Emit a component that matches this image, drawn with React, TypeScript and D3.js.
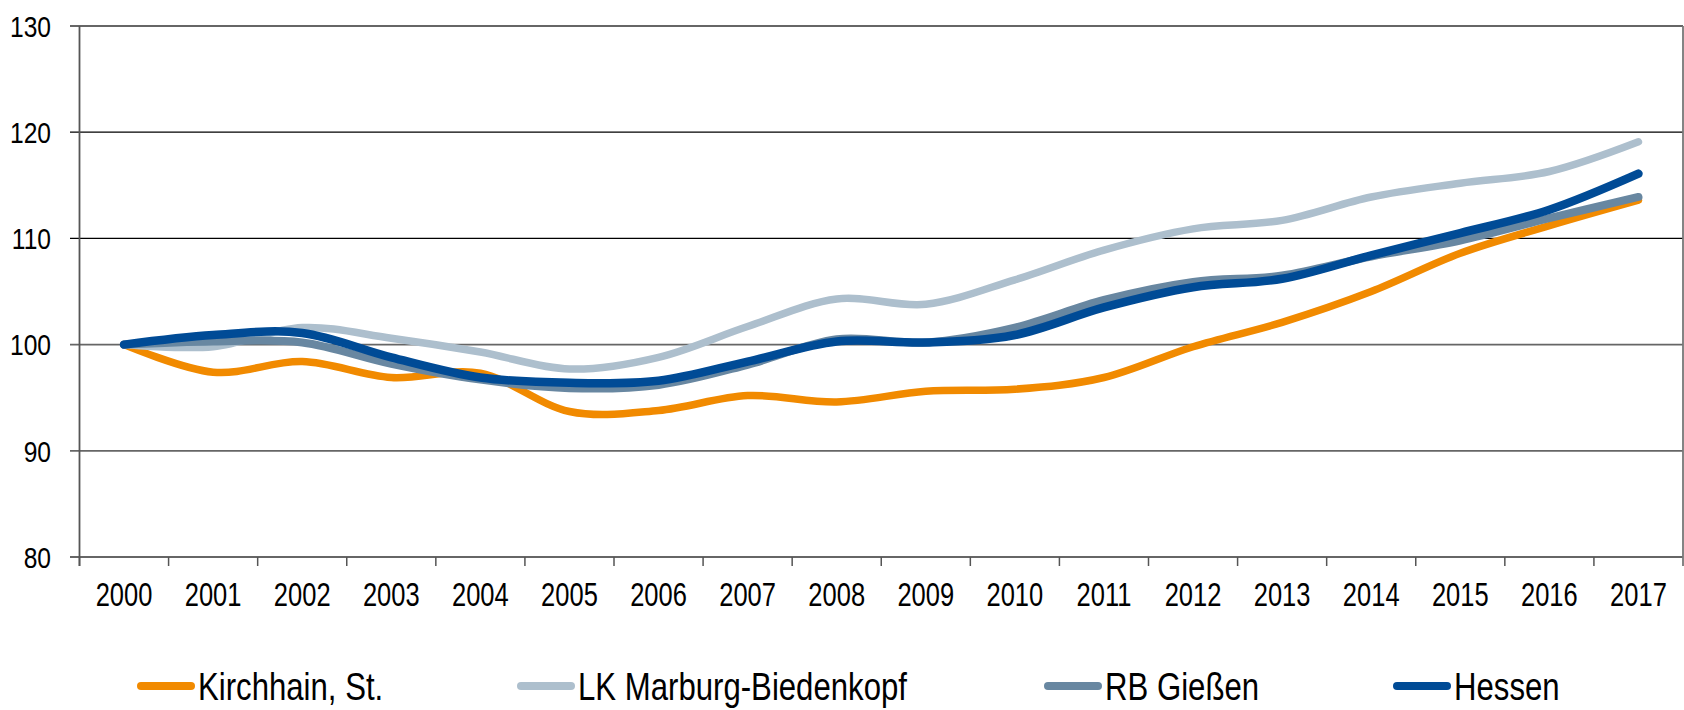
import React from "react";
import * as d3 from "d3";

// index 2000 = 100
const years = ["2000", "2001", "2002", "2003", "2004", "2005", "2006", "2007", "2008", "2009",
  "2010", "2011", "2012", "2013", "2014", "2015", "2016", "2017"];

const kirchhain = [100, 97.4, 98.4, 96.9, 97.3, 93.7, 93.8, 95.2, 94.6, 95.6, 95.8, 96.9, 99.8, 102.1, 105.0, 108.6, 111.2, 113.6];
const marburg = [100, 99.8, 101.6, 100.6, 99.3, 97.7, 98.8, 101.7, 104.3, 103.8, 106.1, 108.9, 110.9, 111.7, 113.9, 115.2, 116.3, 119.1];
const giessen = [100, 100.3, 100.2, 98.2, 96.7, 95.9, 96.2, 98.1, 100.5, 100.2, 101.6, 104.2, 105.9, 106.5, 108.3, 109.8, 111.9, 113.9];
const hessen = [100, 100.9, 101.1, 98.8, 96.9, 96.4, 96.6, 98.4, 100.3, 100.2, 100.9, 103.5, 105.4, 106.2, 108.4, 110.5, 112.7, 116.1];

const yTicks = [80, 90, 100, 110, 120, 130];

const series = [
  { name: "Kirchhain, St.", values: kirchhain, color: "#f18a00", width: 7.5 },
  { name: "LK Marburg-Biedenkopf", values: marburg, color: "#adbfcd", width: 7.5 },
  { name: "RB Gießen", values: giessen, color: "#6887a1", width: 8 },
  { name: "Hessen", values: hessen, color: "#004b96", width: 8.5 },
];
const legendX = [137, 517, 1044, 1393];

const W = 1684;
const H = 710;
const left = 79.5;
const right = 1683;
const top = 26;
const bottom = 557;
const font = "'Liberation Sans', Arial, sans-serif";

// the original uses a condensed face; squeeze Liberation Sans horizontally
function NText(props: { x: number; y: number; size: number; sx?: number; anchor?: string; children: React.ReactNode }) {
  return (
    <text
      transform={`translate(${props.x},${props.y}) scale(${props.sx || 0.82},1)`}
      dy="0.36em"
      textAnchor={props.anchor || "start"}
      fontFamily={font}
      fontSize={props.size}
      fill="#000"
    >
      {props.children}
    </text>
  );
}

export default function App() {
  const x = d3.scaleBand().domain(years).range([left, right]);
  const y = d3.scaleLinear().domain([80, 130]).range([bottom, top]);
  const cx = (i: number) => (x(years[i]) as number) + x.bandwidth() / 2;

  const line = d3
    .line<number>()
    .x((_, i) => cx(i))
    .y((d) => y(d))
    .curve(d3.curveCardinal.tension(0));

  return (
    <svg width={W} height={H} style={{ position: "absolute", left: 0, top: 0, background: "#fff" }}>
      {/* grid + y ticks */}
      {yTicks.map((t) => {
        const dark = t === 110 || t === 120;
        return (
          <line
            key={t}
            x1={70}
            x2={right}
            y1={y(t)}
            y2={y(t)}
            stroke={dark ? "#000" : "#666"}
            strokeWidth={dark ? 1.2 : 1.8}
          />
        );
      })}
      {yTicks.map((t) => (
        <NText key={"l" + t} x={51} y={y(t)} size={30} anchor="end">
          {t}
        </NText>
      ))}
      {/* axes */}
      <line x1={left} x2={left} y1={top} y2={bottom + 9} stroke="#555" strokeWidth={1.8} />
      <line x1={right} x2={right} y1={top} y2={bottom + 9} stroke="#777" strokeWidth={1.8} />
      {years.map((yr) => (
        <line key={"t" + yr} x1={x(yr)} x2={x(yr)} y1={bottom} y2={bottom + 9} stroke="#555" strokeWidth={1.5} />
      ))}
      {years.map((yr, i) => (
        <NText key={"x" + yr} x={cx(i)} y={594} size={34} sx={0.75} anchor="middle">
          {yr}
        </NText>
      ))}
      {/* series */}
      {series.map((s) => (
        <path
          key={s.name}
          d={line(s.values) || ""}
          fill="none"
          stroke={s.color}
          strokeWidth={s.width}
          strokeLinecap="round"
          strokeLinejoin="round"
        />
      ))}
      {/* legend */}
      {series.map((s, i) => (
        <g key={"lg" + s.name} transform={`translate(${legendX[i]},686)`}>
          <line x1={4} x2={54} y1={0} y2={0} stroke={s.color} strokeWidth={8} strokeLinecap="round" />
          <NText x={61} y={0} size={38}>
            {s.name}
          </NText>
        </g>
      ))}
    </svg>
  );
}
